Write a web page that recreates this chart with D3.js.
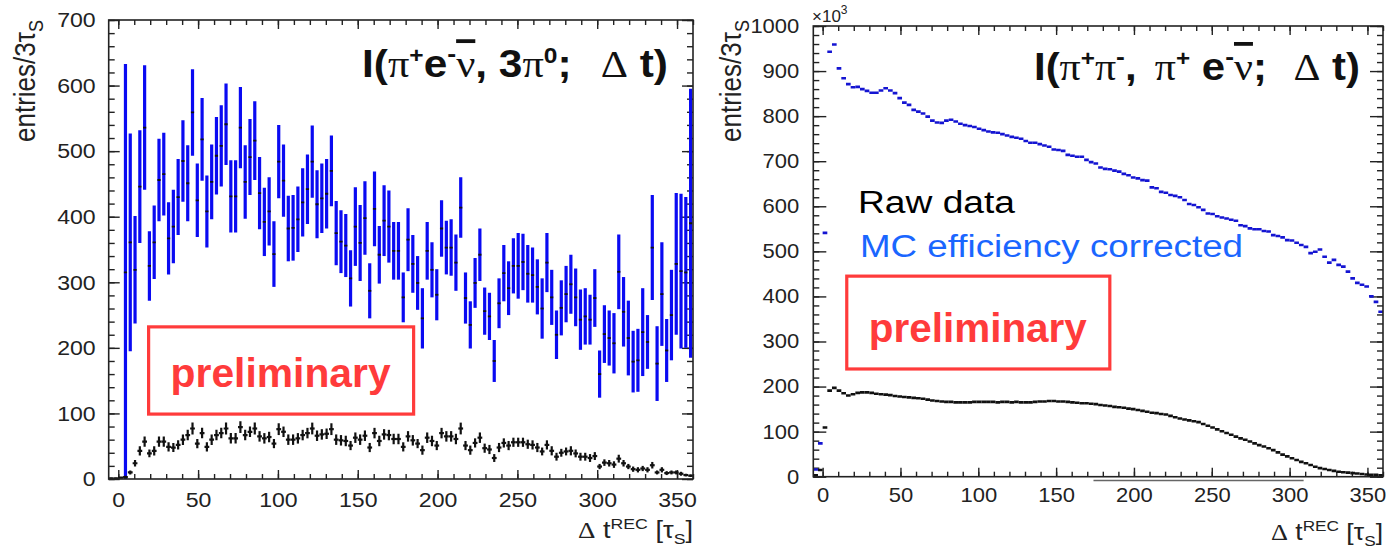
<!DOCTYPE html>
<html>
<head>
<meta charset="utf-8">
<script src="https://cdn.jsdelivr.net/npm/d3@7/dist/d3.min.js"></script>
<style>
  body { margin: 0; background: #fff; }
  svg { display: block; }
</style>
</head>
<body>
<svg id="chart" width="1386" height="549"></svg>
<script>
// histogram bins of 3 tau_S, centres -4.5 ... 358.5 (122 bins)
const binCentres = d3.range(-4.5, 360, 3)

const xTicks = [0, 50, 100, 150, 200, 250, 300, 350]
const yTicksLeft = [0, 100, 200, 300, 400, 500, 600, 700]
const yTicksRight = [0, 100, 200, 300, 400, 500, 600, 700, 800, 900, 1000]

// left panel: I(pi+ e- nubar, 3pi0; dt)
const leftRaw = [
  1, 1, 2, 3, 10, 24, 43, 57, 39, 43,
  57, 57, 49, 48, 52, 60, 67, 77, 54, 70,
  49, 60, 67, 70, 77, 62, 62, 79, 67, 72,
  77, 65, 62, 64, 54, 76, 72, 60, 60, 62,
  67, 70, 77, 66, 68, 69, 76, 60, 59, 58,
  51, 63, 60, 66, 48, 70, 58, 68, 67, 61,
  61, 49, 65, 59, 54, 44, 63, 58, 51, 70,
  65, 65, 61, 77, 51, 44, 55, 63, 47, 45,
  32, 48, 55, 51, 56, 56, 56, 53, 52, 48,
  42, 52, 43, 34, 40, 42, 43, 39, 34, 34,
  32, 35, 19, 25, 24, 22, 31, 24, 19, 15,
  14, 16, 14, 21, 10, 14, 9, 10, 10, 8,
  6, 5
]
const leftRawErr = [
  1, 1, 1, 2, 3, 5, 7, 8, 6, 7,
  8, 8, 7, 7, 7, 8, 8, 9, 7, 8,
  7, 8, 8, 8, 9, 8, 8, 9, 8, 8,
  9, 8, 8, 8, 7, 9, 8, 8, 8, 8,
  8, 8, 9, 8, 8, 8, 9, 8, 8, 8,
  7, 8, 8, 8, 7, 8, 8, 8, 8, 8,
  8, 7, 8, 8, 7, 7, 8, 8, 7, 8,
  8, 8, 8, 9, 7, 7, 7, 8, 7, 7,
  6, 7, 7, 7, 7, 7, 7, 7, 7, 7,
  6, 7, 7, 6, 6, 6, 7, 6, 6, 6,
  6, 6, 4, 5, 5, 5, 6, 5, 4, 4,
  4, 4, 4, 5, 3, 4, 3, 3, 3, 3,
  2, 2
]
const leftCorr = [
  null, null, null, 315, 361, 319, 446, 536, 325, 361,
  456, 465, 367, 385, 430, 485, 451, 559, 425, 518,
  408, 453, 493, 508, 541, 431, 431, 536, 453, 491,
  516, 436, 392, 408, 343, 484, 455, 382, 383, 396,
  422, 442, 484, 419, 428, 435, 470, 375, 362, 356,
  306, 385, 360, 398, 287, 412, 342, 394, 385, 348,
  348, 277, 365, 328, 299, 245, 348, 319, 281, 382,
  353, 353, 330, 414, 276, 235, 299, 342, 256, 248,
  180, 268, 314, 291, 325, 325, 331, 313, 311, 293,
  260, 330, 277, 220, 261, 282, 297, 277, 243, 248,
  243, 276, 160, 221, 215, 207, 316, 255, 215, 179,
  181, 224, 209, 353, 176, 282, 196, 250, 328, 317,
  315, 390
]
const leftCorrErr = [
  null, null, null, 318, 166, 82, 86, 95, 53, 56,
  63, 63, 55, 56, 58, 62, 58, 66, 56, 63,
  55, 57, 59, 62, 62, 55, 55, 62, 56, 58,
  60, 55, 52, 52, 50, 56, 55, 50, 50, 50,
  52, 53, 55, 52, 53, 53, 54, 49, 48, 48,
  43, 60, 58, 56, 42, 57, 44, 54, 55, 44,
  44, 38, 48, 44, 41, 46, 44, 42, 39, 43,
  41, 43, 43, 46, 39, 36, 38, 40, 36, 36,
  32, 38, 43, 41, 42, 50, 43, 44, 42, 42,
  46, 45, 42, 37, 42, 43, 45, 44, 46, 43,
  38, 44, 36, 44, 42, 46, 57, 53, 57, 47,
  48, 67, 41, 80, 57, 79, 48, 69, 108, 118,
  115, 205
]

// right panel: I(pi+ pi-, pi+ e- nubar; dt), units of 10^3
const rightRaw = [
  3, 15, 109, 191, 197, 191, 185, 180, 183, 186,
  187, 187, 186, 184, 183, 182, 181, 179, 178, 177,
  176, 175, 174, 173, 171, 169, 168, 167, 166, 166,
  165, 165, 165, 165, 166, 166, 166, 166, 166, 165,
  166, 166, 165, 166, 165, 165, 165, 166, 167, 167,
  168, 168, 167, 167, 166, 165, 164, 163, 163, 162,
  161, 159, 158, 157, 155, 154, 153, 151, 150, 148,
  146, 144, 142, 141, 139, 138, 135, 132, 129, 127,
  125, 123, 121, 117, 113, 109, 105, 101, 97, 93,
  89, 85, 82, 78, 74, 70, 67, 63, 59, 54,
  49, 45, 41, 37, 33, 30, 26, 22, 19, 17,
  15, 13, 11, 10, 9, 8, 7, 6, 5, 4,
  4, 3
]
const rightCorr = [
  16, 74, 541, 943, 959, 906, 884, 871, 864, 865,
  860, 856, 852, 852, 857, 862, 857, 851, 840, 830,
  825, 814, 810, 806, 799, 790, 786, 785, 790, 792,
  788, 783, 780, 778, 776, 772, 769, 766, 764, 763,
  760, 757, 754, 752, 750, 745, 741, 741, 738, 735,
  732, 726, 725, 723, 714, 712, 710, 710, 703, 698,
  695, 686, 683, 682, 679, 677, 672, 669, 664, 662,
  658, 657, 642, 640, 632, 630, 625, 623, 620, 614,
  605, 603, 598, 592, 584, 583, 578, 575, 573, 570,
  568, 558, 556, 551, 549, 549, 545, 544, 536, 534,
  531, 525, 524, 519, 514, 510, 496, 499, 504, 488,
  475, 481, 470, 466, 455, 440, 430, 426, 422, 400,
  388, 366
]

const FONT = "'Liberation Sans', Arial, Helvetica, sans-serif"
const SERIF = "'Liberation Serif', 'Times New Roman', serif"
const RED = "#ff3b3b"
const INK = "#222"

const svg = d3.select("#chart")
svg.append("rect").attr("width", 1386).attr("height", 549).attr("fill", "#fff")

// widen text horizontally around its anchor (the source picture is stretched)
function stretchAt(sel, s) {
  sel.each(function () {
    const ax = +this.getAttribute("x") || 0
    d3.select(this).attr("transform", `translate(${ax},0) scale(${s},1) translate(${-ax},0)`)
  })
}
function fitWidth(sel, ax, w) {
  const bw = sel.node().getBBox().width
  sel.attr("transform", `translate(${ax},0) scale(${w / bw},1) translate(${-ax},0)`)
}
// ROOT-like latex: pieces with super/subscripts, overbar
function rich(text, parts) {
  let shift = 0
  parts.forEach(p => {
    const ts = text.append("tspan").text(p.t)
    const want = p.sup ? -p.sup : (p.sub || 0)
    if (want !== shift) ts.attr("dy", want - shift)
    shift = want
    if (p.dx) ts.attr("dx", p.dx)
    if (p.size) ts.attr("font-size", p.size)
    if (p.serif) ts.attr("font-family", SERIF).attr("font-weight", "normal")
    if (p.bar) ts.style("text-decoration", "overline")
  })
}

function styleAxis(g, size) {
  g.attr("font-family", FONT).attr("font-size", size)
  g.select(".domain").remove()
  g.selectAll(".tick line").attr("stroke", INK).attr("stroke-width", 1.4)
  g.selectAll(".tick text").attr("fill", INK)
}

function panel(o) {
  const x = d3.scaleLinear().domain([-6, 360]).range([o.x0, o.x1])
  const y = d3.scaleLinear().domain([0, o.ymax]).range([o.y1, o.y0])
  const g = svg.append("g")

  g.append("clipPath").attr("id", "clip-" + o.id).append("rect")
    .attr("x", o.x0).attr("y", o.y0)
    .attr("width", o.x1 - o.x0).attr("height", o.y1 - o.y0)

  // minor ticks, all four sides, pointing inwards
  const xMinor = d3.range(0, 361, 10)
  const yMinor = d3.range(0, o.ymax + 1, 20)
  g.append("g").attr("transform", `translate(0,${o.y1})`)
    .call(d3.axisBottom(x).tickValues(xMinor).tickSize(-o.minX).tickFormat(""))
    .call(s => styleAxis(s, o.font))
  g.append("g").attr("transform", `translate(0,${o.y0})`)
    .call(d3.axisTop(x).tickValues(xMinor).tickSize(-o.minX).tickFormat(""))
    .call(s => styleAxis(s, o.font))
  g.append("g").attr("transform", `translate(${o.x0},0)`)
    .call(d3.axisLeft(y).tickValues(yMinor).tickSize(-o.minY).tickFormat(""))
    .call(s => styleAxis(s, o.font))
  g.append("g").attr("transform", `translate(${o.x1},0)`)
    .call(d3.axisRight(y).tickValues(yMinor).tickSize(-o.minY).tickFormat(""))
    .call(s => styleAxis(s, o.font))

  // major ticks with labels
  const xb = g.append("g").attr("transform", `translate(0,${o.y1})`)
    .call(d3.axisBottom(x).tickValues(xTicks).tickSize(-o.majX).tickPadding(o.padX).tickFormat(d3.format("d")))
    .call(s => styleAxis(s, o.font))
  g.append("g").attr("transform", `translate(0,${o.y0})`)
    .call(d3.axisTop(x).tickValues(xTicks).tickSize(-o.majX).tickFormat(""))
    .call(s => styleAxis(s, o.font))
  const yl = g.append("g").attr("transform", `translate(${o.x0},0)`)
    .call(d3.axisLeft(y).tickValues(o.yTicks).tickSize(-o.majY).tickPadding(o.padY).tickFormat(d3.format("d")))
    .call(s => styleAxis(s, o.font))
  g.append("g").attr("transform", `translate(${o.x1},0)`)
    .call(d3.axisRight(y).tickValues(o.yTicks).tickSize(-o.majY).tickFormat(""))
    .call(s => styleAxis(s, o.font))
  stretchAt(xb.selectAll(".tick text"), 1.1)
  stretchAt(yl.selectAll(".tick text"), 1.1)

  const marks = g.append("g").attr("clip-path", `url(#clip-${o.id})`)
  o.draw(marks, x, y)

  // frame
  g.append("rect")
    .attr("x", o.x0).attr("y", o.y0)
    .attr("width", o.x1 - o.x0).attr("height", o.y1 - o.y0)
    .attr("fill", "none").attr("stroke", INK).attr("stroke-width", 1.6)

  // "preliminary" box, placed in data coordinates
  const bx = x(o.box[0]), bx1 = x(o.box[1]), by = y(o.box[3]), by1 = y(o.box[2])
  g.append("rect").attr("x", bx).attr("y", by).attr("width", bx1 - bx).attr("height", by1 - by)
    .attr("fill", "none").attr("stroke", RED).attr("stroke-width", 3.2)
  g.append("text").attr("x", bx + 22).attr("y", by1 - 27)
    .attr("font-family", FONT).attr("font-weight", "bold").attr("font-size", 40)
    .attr("fill", RED).attr("textLength", bx1 - bx - 45).attr("lengthAdjust", "spacingAndGlyphs")
    .text("preliminary")

  // axis titles
  const xt = g.append("text").attr("x", o.x1).attr("y", o.xTitleY).attr("text-anchor", "end")
    .attr("font-family", FONT).attr("font-size", 23).attr("fill", INK)
  rich(xt, [{ t: "Δ", serif: 1 }, { t: " t" }, { t: "REC", sup: 9, size: 15 }, { t: " [" },
            { t: "τ" }, { t: "S", sub: 6, size: 15 }, { t: "]" }])
  fitWidth(xt, o.x1, o.xTitleW)

  const yt = g.append("text")
    .attr("transform", `translate(${o.yTitleX},20) scale(1.12,1) rotate(-90)`)
    .attr("text-anchor", "end").attr("font-family", FONT).attr("font-size", 26).attr("fill", INK)
  rich(yt, [{ t: "entries/3τ" }, { t: "S", sub: 7, size: 18 }])

  // plot title
  const tt = g.append("text").attr("x", o.titleX).attr("y", o.titleY)
    .attr("font-family", FONT).attr("font-weight", "bold").attr("font-size", 38).attr("fill", "#111")
  rich(tt, o.title)
  fitWidth(tt, o.titleX, o.titleW)

  return { x, y, g }
}

// ---------- left panel ----------
const leftRows = binCentres.map((t, i) => ({ t, raw: leftRaw[i], rawErr: leftRawErr[i], corr: leftCorr[i], corrErr: leftCorrErr[i] }))

panel({
  id: "l", x0: 108.7, x1: 693, y0: 20, y1: 479, ymax: 700, yTicks: yTicksLeft,
  font: 21, majX: 9, minX: 5, majY: 11, minY: 6, padX: 13, padY: 13,
  box: [19, 185, 99, 232],
  xTitleY: 538, xTitleW: 115, yTitleX: 35,
  titleX: 362, titleY: 77, titleW: 306,
  title: [{ t: "I(" }, { t: "π", serif: 1 }, { t: "+", sup: 14, size: 22 }, { t: "e" },
          { t: "-", sup: 15, size: 24 }, { t: "ν", serif: 1, bar: 1 }, { t: ", 3" }, { t: "π", serif: 1 },
          { t: "0", sup: 14, size: 22 }, { t: ";" }, { t: "Δ", serif: 1, dx: 26 }, { t: " t)" }],
  draw: (m, x, y) => {
    const corr = leftRows.filter(d => d.corr != null)
    m.append("g").selectAll("line").data(corr).join("line")
      .attr("x1", d => x(d.t)).attr("x2", d => x(d.t))
      .attr("y1", d => y(d.corr - d.corrErr)).attr("y2", d => y(d.corr + d.corrErr))
      .attr("stroke", "#0a0af2").attr("stroke-width", 3.2)
    m.append("g").selectAll("line").data(corr).join("line")
      .attr("x1", d => x(d.t - 1)).attr("x2", d => x(d.t + 1))
      .attr("y1", d => y(d.corr)).attr("y2", d => y(d.corr))
      .attr("stroke", "#111").attr("stroke-width", 1.8)

    m.append("g").selectAll("line").data(leftRows).join("line")
      .attr("x1", d => x(d.t)).attr("x2", d => x(d.t))
      .attr("y1", d => y(d.raw - d.rawErr)).attr("y2", d => y(d.raw + d.rawErr))
      .attr("stroke", "#111").attr("stroke-width", 2.2)
    m.append("g").selectAll("line").data(leftRows).join("line")
      .attr("x1", d => x(d.t - 1.5)).attr("x2", d => x(d.t + 1.5))
      .attr("y1", d => y(d.raw)).attr("y2", d => y(d.raw))
      .attr("stroke", "#111").attr("stroke-width", 2.2)
  }
})

// ---------- right panel ----------
const rightRows = binCentres.map((t, i) => ({ t, raw: rightRaw[i], corr: rightCorr[i] }))

const R = panel({
  id: "r", x0: 813.3, x1: 1383, y0: 26, y1: 476.7, ymax: 1000, yTicks: yTicksRight,
  font: 20, majX: 9, minX: 5, majY: 13, minY: 6, padX: 11, padY: 14,
  box: [15.5, 184.5, 239, 445],
  xTitleY: 540, xTitleW: 112, yTitleX: 741,
  titleX: 1034, titleY: 80, titleW: 326,
  title: [{ t: "I(" }, { t: "π", serif: 1 }, { t: "+", sup: 14, size: 22 }, { t: "π", serif: 1 },
          { t: "-", sup: 15, size: 24 }, { t: ", " }, { t: "π", serif: 1, dx: 6 }, { t: "+", sup: 14, size: 22 },
          { t: " e" }, { t: "-", sup: 15, size: 24 }, { t: "ν", serif: 1, bar: 1 }, { t: ";" },
          { t: "Δ", serif: 1, dx: 24 }, { t: " t)" }],
  draw: (m, x, y) => {
    m.append("g").selectAll("line").data(rightRows).join("line")
      .attr("x1", d => x(d.t - 1.5)).attr("x2", d => x(d.t + 1.5))
      .attr("y1", d => y(d.raw)).attr("y2", d => y(d.raw))
      .attr("stroke", "#111").attr("stroke-width", 2.6)
    m.append("g").selectAll("line").data(rightRows).join("line")
      .attr("x1", d => x(d.t - 1.5)).attr("x2", d => x(d.t + 1.5))
      .attr("y1", d => y(d.corr)).attr("y2", d => y(d.corr))
      .attr("stroke", "#1414d2").attr("stroke-width", 2.6)
  }
})

// stray rule under the right x axis, as in the source picture
R.g.append("line").attr("x1", R.x(174)).attr("x2", R.x(309))
  .attr("y1", 480.5).attr("y2", 480.5).attr("stroke", "#666").attr("stroke-width", 1.5)

// x10^3 multiplier
const ex = svg.append("text").attr("x", 812).attr("y", 22)
  .attr("font-family", FONT).attr("font-size", 17).attr("fill", INK)
rich(ex, [{ t: "×10" }, { t: "3", sup: 8, size: 12 }])

// legend
svg.append("text").attr("x", 858).attr("y", 213)
  .attr("font-family", FONT).attr("font-size", 31).attr("fill", "#000")
  .attr("textLength", 157).attr("lengthAdjust", "spacingAndGlyphs").text("Raw data")
svg.append("text").attr("x", 860).attr("y", 257)
  .attr("font-family", FONT).attr("font-size", 31).attr("fill", "#1a66ff")
  .attr("textLength", 383).attr("lengthAdjust", "spacingAndGlyphs").text("MC efficiency corrected")
</script>
</body>
</html>
